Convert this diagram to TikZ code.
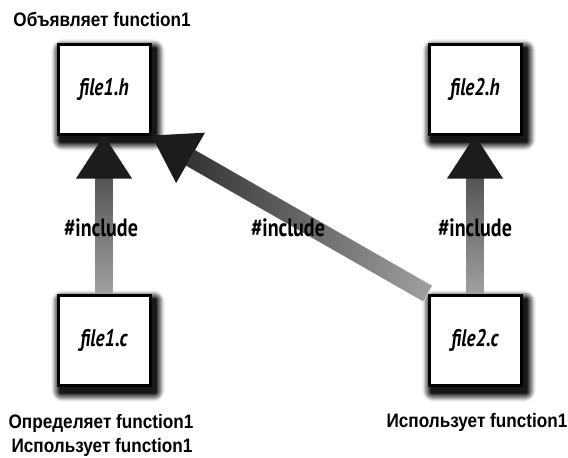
\documentclass[tikz,border=0pt]{standalone}
\usepackage{fontspec}
\setmainfont{Liberation Sans}
\newfontfamily\labelfont[FakeStretch=0.88]{Liberation Sans}
\newfontfamily\namefont[FakeStretch=0.8]{PT Sans}
\usetikzlibrary{calc,backgrounds}
\definecolor{headgray}{HTML}{1C1C1C}
\definecolor{shaftdark}{HTML}{555555}
\definecolor{diagdark}{HTML}{333333}
\definecolor{shaftlight}{HTML}{A0A0A0}
\tikzset{
  filebox/.style={draw=black, line width=3pt, fill=white,
    minimum width=92pt, minimum height=90pt, inner sep=0pt,
    font=\namefont\bfseries\itshape\fontsize{24}{24}\selectfont},
  note/.style={font=\labelfont\bfseries\fontsize{19.5}{24}\selectfont,
    inner sep=0pt, anchor=base},
  inclabel/.style={font=\namefont\bfseries\fontsize{25}{25}\selectfont,
    inner sep=0pt},
  headfill/.style={fill=headgray},
}
% soft drop shadow: nested rectangles, lightest outside, darkest inside
\newcommand\boxshadow[1]{%
  \foreach \k in {12,...,1}{%
    \pgfmathsetmacro\shadetone{int(max(4,100-8.5*\k))}%
    \fill[black!\shadetone, rounded corners=\k pt]
      ($(#1.south west)+(4-\k*0.8,6+\k*0.8)$) rectangle
      ($(#1.north east)+(4+\k*0.8,6-\k*0.8)$);
  }}
\begin{document}
\begin{tikzpicture}[x=1pt, y=-1pt]
  \useasboundingbox (0,0) rectangle (568,458);

  % source and header files
  \node[filebox] (f1h) at (104,89)  {file1.h};
  \node[filebox] (f2h) at (475,89)  {file2.h};
  \node[filebox] (f1c) at (104,340) {file1.c};
  \node[filebox] (f2c) at (475,340) {file2.c};

  % descriptions
  \node[note] (d1h)  at (102,26.5) {Объявляет function1};
  \node[note] (d1ca) at (101,428)  {Определяет function1};
  \node[note] (d1cb) at (102,452)  {Использует function1};
  \node[note] (d2c)  at (477,427)  {Использует function1};

  % shadows and include arrows, kept behind the boxes
  \begin{scope}[on background layer]
    \boxshadow{f1h}
    \boxshadow{f2h}
    \boxshadow{f1c}
    \boxshadow{f2c}

    % file1.c -> file1.h
    \shade[top color=shaftdark, bottom color=shaftlight]
      ($(f1c.north)+(-8.5,0)$) rectangle ($(f1h.south)+(8.5,42)$);
    \fill[headfill] (f1h.south) -- ++(-28,43) -- ++(56,0) -- cycle;

    % file2.c -> file2.h
    \shade[top color=shaftdark, bottom color=shaftlight]
      ($(f2c.north)+(-8.5,0)$) rectangle ($(f2h.south)+(8.5,42)$);
    \fill[headfill] (f2h.south) -- ++(-28,43) -- ++(56,0) -- cycle;

    % file2.c -> file1.h
    \coordinate (dt) at (f2c.north west);
    \coordinate (dh) at (f1h.south east);
    \coordinate (db) at ($(dh)!45pt!(dt)$);
    \shade[left color=diagdark, right color=shaftlight]
      ($(dt)!9pt!90:(dh)$) -- ($(db)!9pt!90:(dh)$)
      -- ($(db)!9pt!-90:(dh)$) -- ($(dt)!9pt!-90:(dh)$) -- cycle;
    \fill[headfill] (dh) -- ($(db)!29pt!90:(dh)$)
      -- ($(db)!29pt!-90:(dh)$) -- cycle;
  \end{scope}

  % arrow labels
  \node[inclabel] (inc1) at (101,228) {\#include};
  \node[inclabel] (inc2) at (288,228) {\#include};
  \node[inclabel] (inc3) at (475,228) {\#include};
\end{tikzpicture}
\end{document}
